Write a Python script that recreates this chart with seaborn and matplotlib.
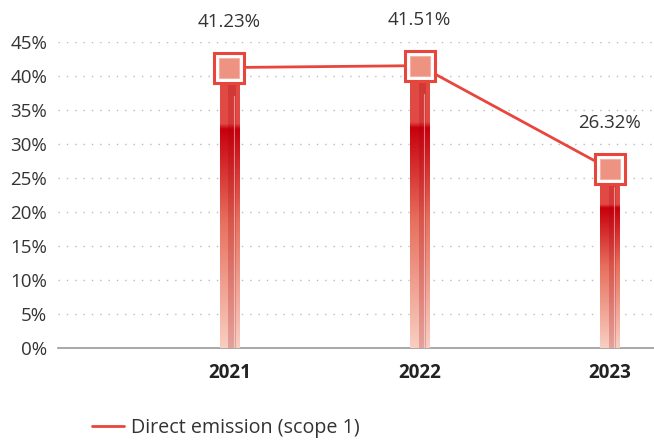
import numpy as np
import pandas as pd
import seaborn as sns
import matplotlib.pyplot as plt
from matplotlib.colors import LinearSegmentedColormap
from matplotlib.lines import Line2D

years = ['2021', '2022', '2023']
emission_pct = [41.23, 41.51, 26.32]
labels = ['41.23%', '41.51%', '26.32%']
yticks = [0, 5, 10, 15, 20, 25, 30, 35, 40, 45]

df = pd.DataFrame({'year': years, 'pct': emission_pct})

sns.set_style('white')
plt.rcParams['font.family'] = ['Open Sans', 'DejaVu Sans']

fig = plt.figure(figsize=(6.54, 4.41), dpi=100)
ax = fig.add_axes([0.089, 0.211, 0.913, 0.694])

red = '#E8463C'
sns.barplot(data=df, x='year', y='pct', color=red, width=0.1, ax=ax, zorder=2)

# gradient fill, clipped to each bar
cmap = LinearSegmentedColormap.from_list(
    'bar', [(0, '#F8CFC2'), (0.45, '#E8705E'), (0.78, '#C8000C'), (0.8, '#E24B45'), (1, '#E04A40')])
grad = np.linspace(0, 1, 256).reshape(-1, 1)
for p in ax.patches:
    x0, y0 = p.get_x(), p.get_y()
    w, h = p.get_width(), p.get_height()
    im = ax.imshow(grad, cmap=cmap, origin='lower', aspect='auto',
                   extent=[x0, x0 + w, y0, y0 + h], zorder=3)
    im.set_clip_path(p)
    # darker inner stripe and a thin highlight
    ax.fill_between([x0 + w * 0.45, x0 + w * 0.85], 0, h * 0.97,
                    color='#A00010', alpha=0.22, lw=0, zorder=4)
    ax.plot([x0 + w * 0.72] * 2, [0, h * 0.9], color='white', alpha=0.45, lw=0.8, zorder=5)

# line with square markers
sns.lineplot(data=df, x='year', y='pct', color=red, lw=2, ax=ax, zorder=6, sort=False)
ax.plot(years, emission_pct, ls='none', marker='s', ms=21, mfc='white', mec=red, mew=2.2, zorder=7)
ax.plot(years, emission_pct, ls='none', marker='s', ms=15, mfc='#EE9282', mec='#F4B3A4', mew=0.8, zorder=8)

for yr, v, lab in zip(years, emission_pct, labels):
    ax.annotate(lab, (yr, v), xytext=(0, 33), textcoords='offset points',
                ha='center', va='center', fontsize=13.5, color='#333333', annotation_clip=False)

ax.set_xlim(-0.9, 2.24)
ax.set_ylim(0, 45)
ax.set_yticks(yticks)
ax.set_yticklabels([f'{t}%' for t in yticks], fontsize=13.5, color='#333333')
ax.tick_params(axis='x', labelsize=13.5, colors='#222222', pad=11, length=0)
ax.tick_params(axis='y', length=0, pad=8)
for t in ax.get_xticklabels():
    t.set_fontweight('bold')
ax.set_xlabel('')
ax.set_ylabel('')
ax.yaxis.grid(True, ls=(0, (1, 5)), color='#BBBBBB', lw=1)
ax.set_axisbelow(True)
for s in ['top', 'right', 'left']:
    ax.spines[s].set_visible(False)
ax.spines['bottom'].set_color('#999999')
ax.spines['bottom'].set_linewidth(1.2)

handle = Line2D([], [], color=red, lw=2)
fig.legend([handle], ['Direct emission (scope 1)'], loc='lower left',
           bbox_to_anchor=(0.113, -0.033), frameon=False, fontsize=14.2,
           handlelength=1.65, handletextpad=0.35, labelcolor='#333333')

fig.savefig('out.png', dpi=100)
